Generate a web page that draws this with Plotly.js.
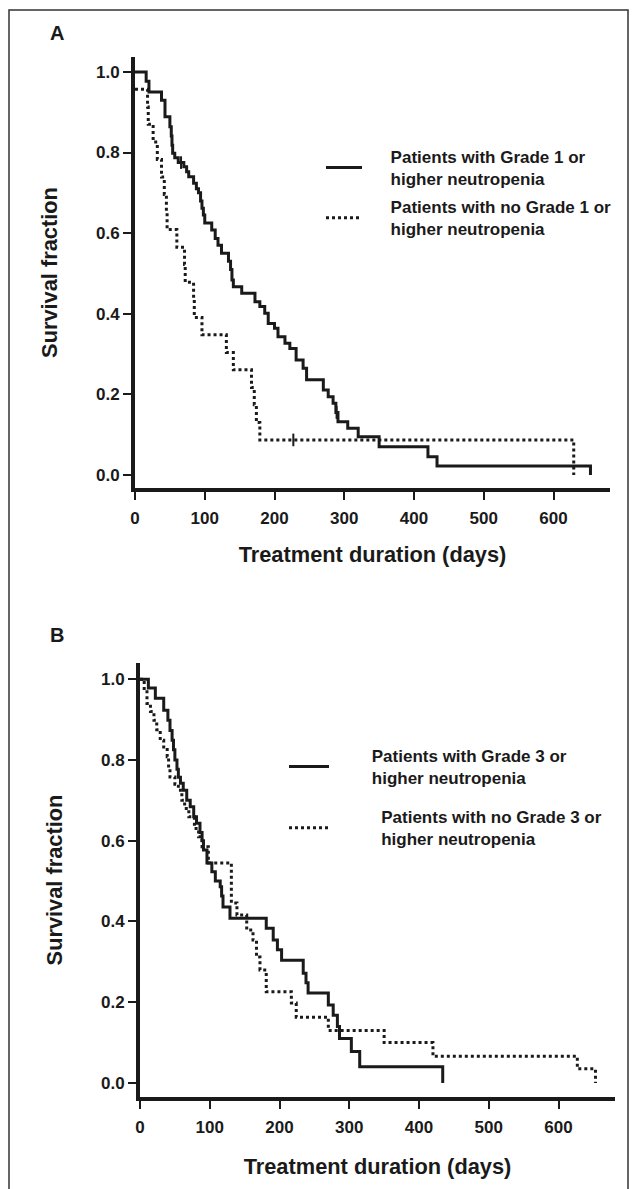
<!DOCTYPE html>
<html><head><meta charset="utf-8">
<script src="https://cdn.plot.ly/plotly-3.0.1.min.js"></script>
<style>html,body{margin:0;padding:0;background:#fff}</style>
</head><body><div id="chart" style="width:639px;height:1189px"></div>
<script>
// Panel A: Grade 1 or higher neutropenia
const daysA_g1 = [0,16,20,38,43,50,52,53,54,57,62,70,74,77,84,88,91,94,96,98,100,110,115,119,124,134,137,139,141,153,172,179,186,191,200,205,215,222,231,241,246,270,277,284,288,291,305,320,350,420,433,653];
const survA_g1 = [1.0,0.977,0.95,0.93,0.889,0.864,0.841,0.818,0.798,0.787,0.775,0.765,0.752,0.74,0.724,0.71,0.70,0.68,0.662,0.645,0.625,0.608,0.587,0.57,0.55,0.53,0.51,0.484,0.467,0.451,0.43,0.418,0.401,0.376,0.364,0.343,0.327,0.314,0.285,0.265,0.236,0.211,0.194,0.178,0.155,0.132,0.116,0.095,0.07,0.045,0.022,0];
const daysA_no = [0,18,19,26,32,38,42,45,46,60,71,72,84,85,96,131,141,167,171,174,179,629];
const survA_no = [0.957,0.913,0.870,0.826,0.783,0.739,0.696,0.652,0.609,0.565,0.522,0.478,0.435,0.391,0.348,0.304,0.261,0.217,0.174,0.130,0.087,0];
const censA_g1_days = [66,289];
const censA_g1_surv = [0.775,0.155];
const censA_no_days = [227];
const censA_no_surv = [0.087];

// Panel B: Grade 3 or higher neutropenia
const daysB_g3 = [0,12,22,34,40,43,46,48,50,53,55,58,62,67,72,77,81,86,89,91,96,103,108,115,117,119,129,181,191,197,203,234,238,241,270,277,283,286,303,315,434];
const survB_g3 = [1.0,0.978,0.953,0.923,0.898,0.873,0.849,0.825,0.80,0.777,0.757,0.742,0.725,0.70,0.684,0.659,0.643,0.62,0.60,0.577,0.545,0.523,0.50,0.486,0.463,0.436,0.408,0.383,0.354,0.33,0.304,0.272,0.248,0.223,0.193,0.168,0.14,0.11,0.078,0.04,0];
const daysB_no = [0,6,10,15,20,24,29,34,39,41,43,50,55,60,64,70,78,84,89,98,131,139,153,162,167,172,181,217,224,270,350,420,627,653];
const survB_no = [1.0,0.969,0.94,0.92,0.898,0.875,0.849,0.832,0.808,0.78,0.758,0.74,0.725,0.70,0.68,0.659,0.63,0.61,0.585,0.545,0.446,0.416,0.379,0.354,0.312,0.28,0.226,0.198,0.163,0.13,0.10,0.066,0.035,0];

const namesA = [['Patients with Grade 1 or','higher neutropenia'],['Patients with no Grade 1 or','higher neutropenia']];
const namesB = [['Patients with Grade 3 or','higher neutropenia'],['Patients with no Grade 3 or','higher neutropenia']];
const xTicks = [0,100,200,300,400,500,600];
const yTicks = [0,0.2,0.4,0.6,0.8,1.0];
const yTickText = ['0.0','0.2','0.4','0.6','0.8','1.0'];
const panelLabels = ['A','B'];
const xTitle = 'Treatment duration (days)';
const yTitle = 'Survival fraction';

const W = 639, H = 1189;
const px = x => x / W;
const py = y => 1 - y / H;
const FONT = 'Liberation Sans, Arial, Helvetica, sans-serif';
const INK = '#1a1a1a';
const pad = n => '\u00a0'.repeat(n);
const legendText = (lines, n) => lines.map(l => pad(n) + l).join('<br>');

function km(x, y, dash, name, xa, ya, legend, grp) {
  return {x: x, y: y, type: 'scatter', mode: 'lines', name: name, legendgroup: grp,
    line: {shape: 'hv', color: INK, width: 3, dash: dash},
    xaxis: xa, yaxis: ya, legend: legend, hoverinfo: 'skip'};
}
function cens(x, y, xa, ya) {
  return {x: x, y: y, type: 'scatter', mode: 'markers', showlegend: false,
    marker: {symbol: 'line-ns', size: 9, line: {width: 2, color: INK}},
    xaxis: xa, yaxis: ya, hoverinfo: 'skip'};
}

const data = [
  km(daysA_g1, survA_g1, 'solid', legendText(namesA[0], 5), 'x', 'y', 'legend', 'a1'),
  km(daysA_no, survA_no, 'dot', legendText(namesA[1], 5), 'x', 'y', 'legend', 'a2'),
  cens(censA_g1_days, censA_g1_surv, 'x', 'y'),
  cens(censA_no_days, censA_no_surv, 'x', 'y'),
  km(daysB_g3, survB_g3, 'solid', legendText(namesB[0], 8), 'x2', 'y2', 'legend2', 'b1'),
  km(daysB_no, survB_no, 'dot', legendText(namesB[1], 10), 'x2', 'y2', 'legend2', 'b2')
];

const tickFont = {family: FONT, size: 17, color: INK, weight: 'bold'};
const titleFont = {family: FONT, size: 21.8, color: INK, weight: 'bold'};
function xax(domain, anchor, standoff) {
  return {domain: domain, anchor: anchor, range: [0, 681], showline: true, linewidth: 4, linecolor: INK,
    ticks: 'outside', ticklen: 8, tickwidth: 2, tickcolor: INK, tickvals: xTicks, showgrid: false, zeroline: false,
    tickfont: tickFont, ticklabelstandoff: 4,
    title: {text: xTitle, font: titleFont, standoff: standoff}, fixedrange: true};
}
function yax(domain, anchor, range) {
  return {domain: domain, anchor: anchor, range: range, showline: true, linewidth: 4, linecolor: INK,
    ticks: 'outside', ticklen: 8, tickwidth: 2, tickcolor: INK, tickvals: yTicks, ticktext: yTickText,
    showgrid: false, zeroline: false, tickfont: tickFont,
    title: {text: yTitle, font: titleFont, standoff: 33}, fixedrange: true};
}
const legFont = {family: FONT, size: 17, color: INK, weight: 'bold'};

const layout = {
  width: W, height: H, margin: {l: 0, r: 0, t: 0, b: 0},
  paper_bgcolor: '#fff', plot_bgcolor: '#fff', showlegend: true,
  xaxis: xax([px(135), px(610)], 'y', 20),
  yaxis: yax([py(488), py(57)], 'x', [-0.0323, 1.037]),
  xaxis2: xax([px(140), px(615)], 'y2', 23),
  yaxis2: yax([py(1097), py(663)], 'x2', [-0.0347, 1.04]),
  legend: {x: px(321), y: py(139), xanchor: 'left', yanchor: 'top', bgcolor: 'rgba(0,0,0,0)',
    font: legFont, itemwidth: 36, tracegroupgap: 3, valign: 'middle'},
  legend2: {x: px(284), y: py(738), xanchor: 'left', yanchor: 'top', bgcolor: 'rgba(0,0,0,0)',
    font: legFont, itemwidth: 40, tracegroupgap: 14, valign: 'middle'},
  annotations: [
    {text: panelLabels[0], xref: 'paper', yref: 'paper', x: px(57), y: py(33), showarrow: false,
      font: {family: FONT, size: 20, color: INK, weight: 'bold'}, xanchor: 'center', yanchor: 'middle'},
    {text: panelLabels[1], xref: 'paper', yref: 'paper', x: px(57), y: py(635), showarrow: false,
      font: {family: FONT, size: 20, color: INK, weight: 'bold'}, xanchor: 'center', yanchor: 'middle'}
  ],
  shapes: [
    {type: 'rect', xref: 'paper', yref: 'paper', x0: px(9), x1: px(628), y0: -0.02, y1: py(10),
      line: {color: '#333', width: 1.5}}
  ]
};

Plotly.newPlot('chart', data, layout, {displayModeBar: false, staticPlot: true});
</script></body></html>
